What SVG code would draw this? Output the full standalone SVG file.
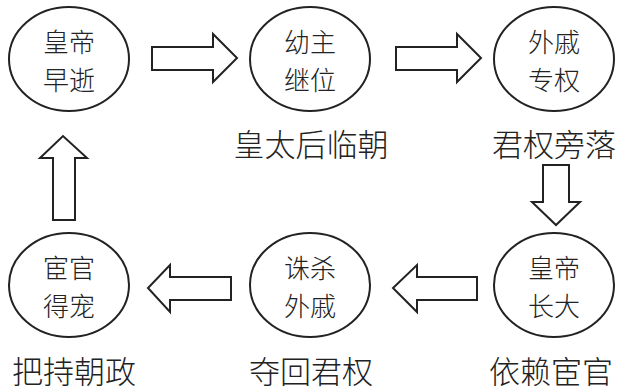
<svg xmlns="http://www.w3.org/2000/svg" width="624" height="391" viewBox="0 0 624 391">
<style>
.n{fill:#fff;stroke:#222;stroke-width:2}
.a{fill:#fff;stroke:#222;stroke-width:2;stroke-linejoin:miter}
.t{font-family:"Noto Sans CJK SC","Noto Sans CJK TC",sans-serif;font-size:26px;font-weight:300;fill:#222;text-anchor:middle}
.l{font-family:"Noto Sans CJK SC","Noto Sans CJK TC",sans-serif;font-size:31px;font-weight:300;fill:#222;text-anchor:middle}
</style>
<rect width="624" height="391" fill="#fff"/>
<g id="connectors">
<polygon class="a" points="152,47 213,47 213,34 237,58 213,82 213,70 152,70"/>
<polygon class="a" points="396,47 457,47 457,34 481,58 457,82 457,70 396,70"/>
<polygon class="a" points="543,165 569,165 569,202 580,202 556,225 532,202 543,202"/>
<polygon class="a" points="477,277 417,277 417,265 393,288 417,312 417,300 477,300"/>
<polygon class="a" points="231,277 170,277 170,265 148,288 170,312 170,300 231,300"/>
<polygon class="a" points="53,220 53,158 40,158 63,136 87,158 75,158 75,220"/>
</g>
<g id="n1"><ellipse class="n" cx="69" cy="59" rx="60" ry="52"/><text class="t" x="69" y="52">皇帝</text><text class="t" x="69" y="90">早逝</text></g>
<g id="n2"><ellipse class="n" cx="310" cy="59" rx="60" ry="52"/><text class="t" x="310" y="52">幼主</text><text class="t" x="310" y="90">继位</text><text class="l" x="311" y="156">皇太后临朝</text></g>
<g id="n3"><ellipse class="n" cx="554" cy="59" rx="60" ry="52"/><text class="t" x="554" y="52">外戚</text><text class="t" x="554" y="90">专权</text><text class="l" x="554" y="156">君权旁落</text></g>
<g id="n4"><ellipse class="n" cx="554" cy="285" rx="60" ry="52"/><text class="t" x="554" y="278">皇帝</text><text class="t" x="554" y="316">长大</text><text class="l" x="551" y="383">依赖宦官</text></g>
<g id="n5"><ellipse class="n" cx="310" cy="285" rx="60" ry="52"/><text class="t" x="310" y="278">诛杀</text><text class="t" x="310" y="316">外戚</text><text class="l" x="311" y="383">夺回君权</text></g>
<g id="n6"><ellipse class="n" cx="69" cy="285" rx="60" ry="52"/><text class="t" x="69" y="278">宦官</text><text class="t" x="69" y="316">得宠</text><text class="l" x="74" y="383">把持朝政</text></g>
</svg>
